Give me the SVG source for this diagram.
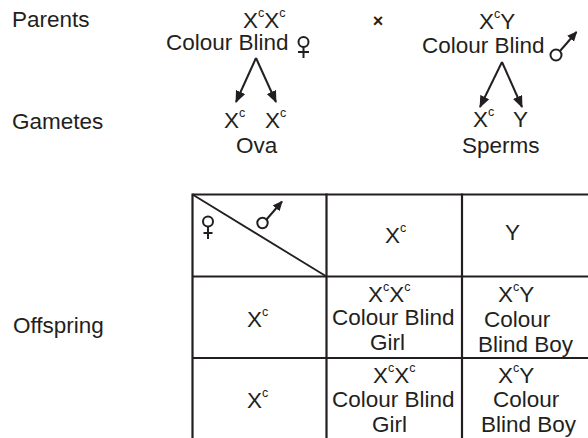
<svg xmlns="http://www.w3.org/2000/svg" width="588" height="438" viewBox="0 0 588 438">
  <defs>
    <style>
      text { font-family: "Liberation Sans", Arial, sans-serif; font-size: 22.5px; fill: #231f20; }
      .sup { font-size: 12.5px; }
      .ln { stroke: #231f20; stroke-width: 2.2; fill: none; }
      .sym { stroke: #231f20; stroke-width: 2; fill: none; }
      .arr { stroke: #231f20; stroke-width: 2; fill: none; marker-end: url(#head); }
    </style>
    <marker id="head" viewBox="0 0 12 10" refX="11" refY="5" markerWidth="12" markerHeight="10" markerUnits="userSpaceOnUse" orient="auto">
      <path d="M0,0 L12,5 L0,10 Z" fill="#231f20"/>
    </marker>
    <marker id="headSmall" viewBox="0 0 10 9" refX="9" refY="4.5" markerWidth="10" markerHeight="9" markerUnits="userSpaceOnUse" orient="auto">
      <path d="M0,0 L10,4.5 L0,9 Z" fill="#231f20"/>
    </marker>
  </defs>
  <rect width="588" height="438" fill="#ffffff"/>

  <!-- row labels -->
  <g id="labels">
    <text x="12" y="27">Parents</text>
    <text x="12" y="129">Gametes</text>
    <text x="13" y="333">Offspring</text>
  </g>

  <!-- mother -->
  <g id="mother">
    <text x="243" y="28">X<tspan class="sup" dy="-11">c</tspan><tspan dy="11">X</tspan><tspan class="sup" dy="-11">c</tspan></text>
    <text x="166" y="50">Colour Blind</text>
    <circle class="sym" cx="303.5" cy="42" r="5"/>
    <path class="sym" d="M303.5,47 V58 M298,52 H309"/>
  </g>

  <text id="cross" x="378" y="27" text-anchor="middle" style="font-size:18px;font-weight:bold">×</text>

  <!-- father -->
  <g id="father">
    <text x="479" y="29">X<tspan class="sup" dy="-11">c</tspan><tspan dy="11">Y</tspan></text>
    <text x="422" y="53">Colour Blind</text>
    <circle class="sym" cx="556" cy="55" r="5.5"/>
    <path class="sym" d="M560,51 L576.5,32" style="marker-end:url(#headSmall)"/>
  </g>

  <!-- gametes -->
  <g id="ova">
    <text x="224" y="128">X<tspan class="sup" dy="-11">c</tspan></text>
    <text x="265" y="128">X<tspan class="sup" dy="-11">c</tspan></text>
    <text x="236" y="153">Ova</text>
  </g>
  <g id="sperms">
    <text x="473" y="127">X<tspan class="sup" dy="-11">c</tspan></text>
    <text x="513" y="127">Y</text>
    <text x="462" y="153">Sperms</text>
  </g>

  <!-- arrows from parents to gametes -->
  <g id="connectors">
    <path class="arr" d="M256,58 L236,102"/>
    <path class="arr" d="M256,58 L276,102"/>
    <path class="arr" d="M502,62 L480,107"/>
    <path class="arr" d="M502,62 L522,107"/>
  </g>

  <!-- Punnett square -->
  <g id="grid">
    <path class="ln" d="M192.5,194.5 H588 M192.5,276.5 H588 M192.5,358 H588"/>
    <path class="ln" d="M192.5,193.4 V438 M326.5,193.4 V438 M462,193.4 V438"/>
    <path class="ln" style="stroke-width:1.8" d="M192.5,194.5 L326.5,276.5"/>
  </g>

  <g id="corner">
    <circle class="sym" cx="208" cy="221.5" r="5"/>
    <path class="sym" d="M208,226.5 V239 M203.5,233 H212.5"/>
    <circle class="sym" cx="262.5" cy="223" r="5.2"/>
    <path class="sym" d="M266.5,219.5 L282,201.5" style="marker-end:url(#headSmall)"/>
  </g>

  <g id="head-xc">
    <text x="385" y="243">X<tspan class="sup" dy="-11">c</tspan></text>
  </g>
  <g id="head-y">
    <text x="505" y="240">Y</text>
  </g>
  <g id="row-xc-1">
    <text x="247" y="327">X<tspan class="sup" dy="-11">c</tspan></text>
  </g>
  <g id="row-xc-2">
    <text x="247" y="408">X<tspan class="sup" dy="-11">c</tspan></text>
  </g>

  <g id="girl-1">
    <text x="368" y="302">X<tspan class="sup" dy="-11">c</tspan><tspan dy="11">X</tspan><tspan class="sup" dy="-11">c</tspan></text>
    <text x="332" y="325">Colour Blind</text>
    <text x="370" y="350">Girl</text>
  </g>
  <g id="boy-1">
    <text x="498" y="302">X<tspan class="sup" dy="-11">c</tspan><tspan dy="11">Y</tspan></text>
    <text x="484" y="327">Colour</text>
    <text x="478" y="352">Blind Boy</text>
  </g>
  <g id="girl-2">
    <text x="373" y="383">X<tspan class="sup" dy="-11">c</tspan><tspan dy="11">X</tspan><tspan class="sup" dy="-11">c</tspan></text>
    <text x="332" y="407">Colour Blind</text>
    <text x="372" y="432">Girl</text>
  </g>
  <g id="boy-2">
    <text x="498" y="383">X<tspan class="sup" dy="-11">c</tspan><tspan dy="11">Y</tspan></text>
    <text x="493" y="407">Colour</text>
    <text x="481" y="432">Blind Boy</text>
  </g>
</svg>
